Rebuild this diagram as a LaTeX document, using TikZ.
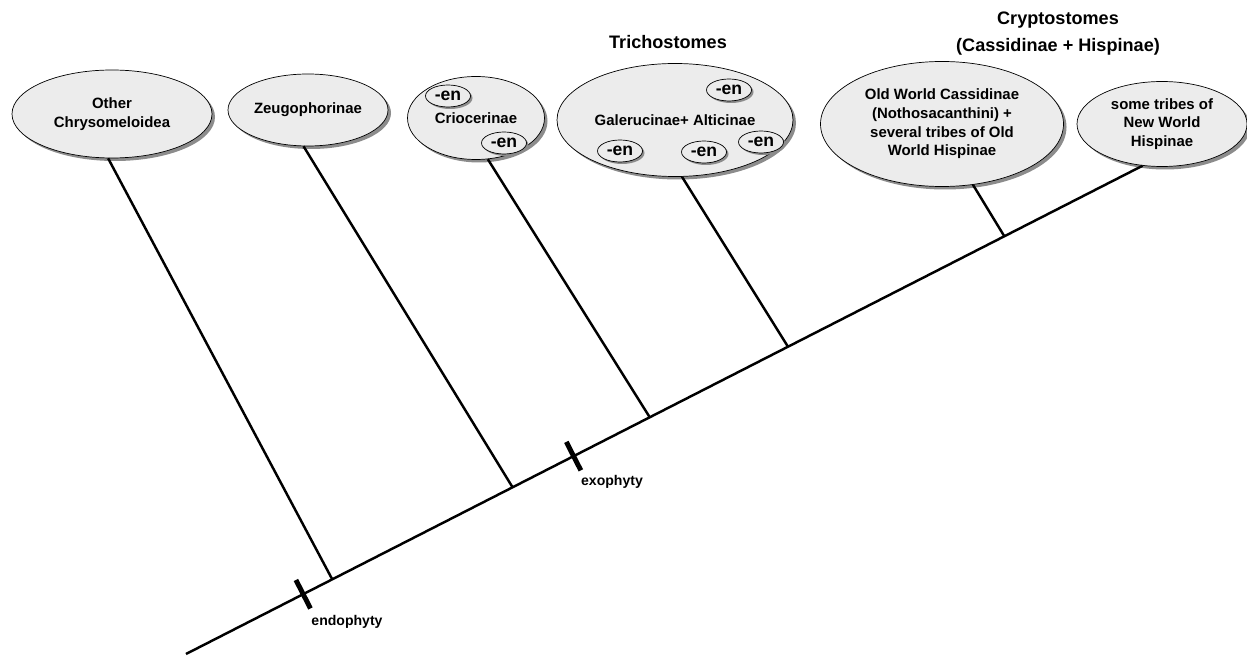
\documentclass[tikz,border=0pt]{standalone}
\usepackage{fontspec}
\setmainfont{Liberation Sans}
\usetikzlibrary{shapes.geometric,shadows,calc}
\definecolor{shellfill}{HTML}{ECECEC}

\begin{document}
\begin{tikzpicture}[
	clade/.style={ellipse, draw, thin, fill=shellfill, inner sep=0pt, align=center,
		font=\fontsize{8.5}{10.6}\selectfont\bfseries,
		drop shadow={shadow xshift=0.06cm, shadow yshift=-0.06cm, fill=black!45, opacity=1}},
	en/.style={ellipse, draw, thin, fill=shellfill, minimum width=0.9cm, minimum height=0.44cm, inner sep=0pt,
		font=\fontsize{10}{12}\selectfont\bfseries,
		drop shadow={shadow xshift=0.04cm, shadow yshift=-0.04cm, fill=black!45, opacity=1}},
	branch/.style={line width=1.4pt},
	traitbar/.style={line width=2.8pt},
	lbl/.style={font=\fontsize{8}{10}\selectfont\bfseries},
	group/.style={font=\fontsize{10.3}{15.3}\selectfont\bfseries, align=center}
]
	\useasboundingbox (0,0) rectangle (24.94,13.1);

	\node[clade, minimum width=4cm, minimum height=1.76cm] (O) at (2.24,10.82) {Other\\Chrysomeloidea};
	\node[clade, minimum width=3.2cm, minimum height=1.44cm] (Z) at (6.16,10.9) {Zeugophorinae};
	\node[clade, minimum width=2.74cm, minimum height=1.66cm] (C) at (9.52,10.74) {Criocerinae};
	\node[clade, minimum width=4.72cm, minimum height=2.26cm] (G) at (13.5,10.7) {Galerucinae+ Alticinae};
	\node[clade, minimum width=4.86cm, minimum height=2.5cm] (W) at (18.84,10.62) {Old World Cassidinae\\(Nothosacanthini) +\\several tribes of Old\\World Hispinae};
	\node[clade, minimum width=3.4cm, minimum height=1.7cm] (N) at (23.24,10.62) {some tribes of\\New World\\Hispinae};

	\node[en] (C1) at (8.96,11.18) {-en};
	\node[en] (C2) at (10.08,10.24) {-en};
	\node[en] (G1) at (14.58,11.3) {-en};
	\node[en] (G2) at (12.4,10.08) {-en};
	\node[en] (G3) at (14.08,10.06) {-en};
	\node[en] (G4) at (15.22,10.26) {-en};

	\node[group] (tri) at (13.36,12.26) {Trichostomes};
	\node[group] (cry) at (21.16,12.43) {Cryptostomes\\(Cassidinae + Hispinae)};

	\coordinate (r) at (3.72,0.02);
	\coordinate (j1) at ($(r)!0.1529!(N.245)$);
	\coordinate (j2) at ($(r)!0.3414!(N.245)$);
	\coordinate (j3) at ($(r)!0.4848!(N.245)$);
	\coordinate (j4) at ($(r)!0.6293!(N.245)$);
	\coordinate (j5) at ($(r)!0.8555!(N.245)$);
	\coordinate (t1) at ($(r)!0.1225!(N.245)$);
	\coordinate (t2) at ($(r)!0.4052!(N.245)$);

	\draw[branch] (r) -- (N.245);
	\draw[branch] (O.265) -- (j1);
	\draw[branch] (Z.263) -- (j2);
	\draw[branch] (C.286) -- (j3);
	\draw[branch] (G.277) -- (j4);
	\draw[branch] (W.297) -- (j5);

	\draw[traitbar] ($(t1)!0.32cm!90:(N.245)$) -- ($(t1)!0.32cm!-90:(N.245)$);
	\draw[traitbar] ($(t2)!0.32cm!90:(N.245)$) -- ($(t2)!0.32cm!-90:(N.245)$);

	\node[lbl] (endo) at (6.94,0.66) {endophyty};
	\node[lbl] (exo) at (12.24,3.46) {exophyty};
\end{tikzpicture}
\end{document}
